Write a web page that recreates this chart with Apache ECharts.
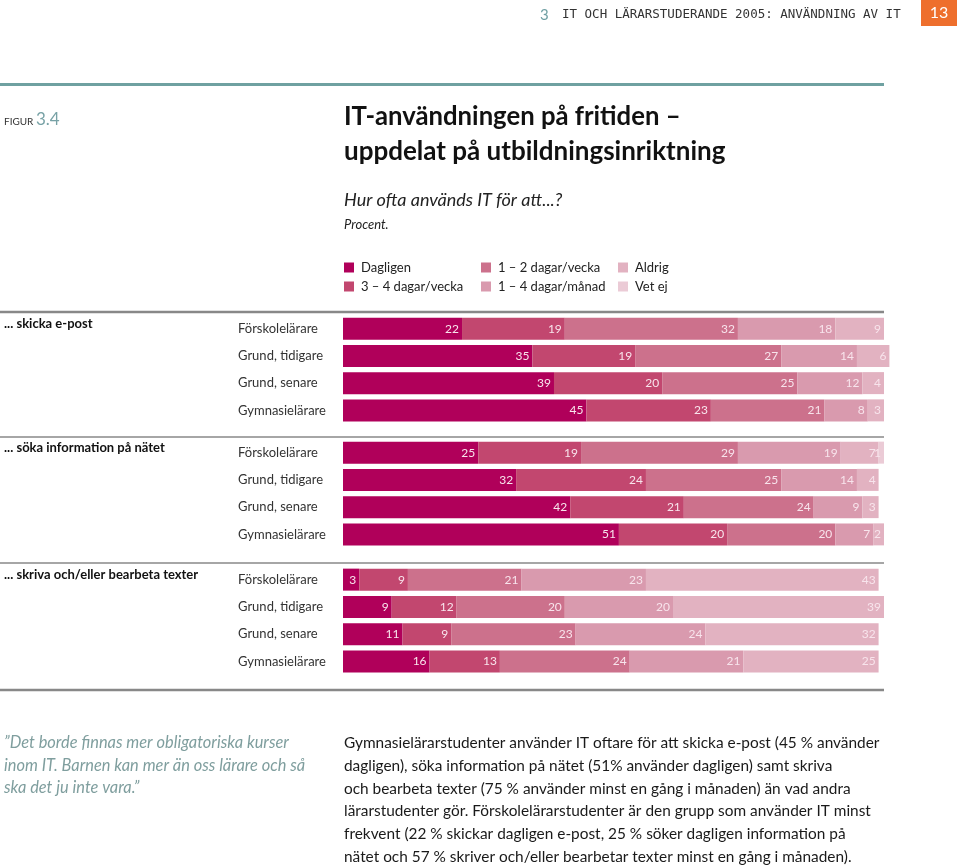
<!DOCTYPE html>
<html><head><meta charset="utf-8">
<script src="https://cdn.jsdelivr.net/npm/echarts@6/dist/echarts.min.js"></script>
<style>html,body{margin:0;padding:0;background:#fff}#main{width:960px;height:868px}</style>
</head><body><div id="main"></div>
<script>
// ---- data ----
const categories = ['Förskolelärare', 'Grund, tidigare', 'Grund, senare', 'Gymnasielärare'];
const groupLabels = ['... skicka e-post', '... söka information på nätet', '... skriva och/eller bearbeta texter'];
const seriesNames = ['Dagligen', '3 – 4 dagar/vecka', '1 – 2 dagar/vecka', '1 – 4 dagar/månad', 'Aldrig', 'Vet ej'];
// rows: [Dagligen, 3–4/vecka, 1–2/vecka, 1–4/månad, Aldrig, Vet ej]
const ePostRows = [
  [22, 19, 32, 18, 9, null],
  [35, 19, 27, 14, 6, null],
  [39, 20, 25, 12, 4, null],
  [45, 23, 21, 8, 3, null]
];
const sokaRows = [
  [25, 19, 29, 19, 7, 1],
  [32, 24, 25, 14, 4, null],
  [42, 21, 24, 9, 3, null],
  [51, 20, 20, 7, 2, null]
];
const skrivaRows = [
  [3, 9, 21, 23, 43, null],
  [9, 12, 20, 20, 39, null],
  [11, 9, 23, 24, 32, null],
  [16, 13, 24, 21, 25, null]
];
const quoteLines = [
  '”Det borde finnas mer obligatoriska kurser',
  'inom IT. Barnen kan mer än oss lärare och så',
  'ska det ju inte vara.”'
];
const bodyLines = [
  'Gymnasielärarstudenter använder IT oftare för att skicka e-post (45 % använder',
  'dagligen), söka information på nätet (51% använder dagligen) samt skriva',
  'och bearbeta texter (75 % använder minst en gång i månaden) än vad andra',
  'lärarstudenter gör. Förskolelärarstudenter är den grupp som använder IT minst',
  'frekvent (22 % skickar dagligen e-post, 25 % söker dagligen information på',
  'nätet och 57 % skriver och/eller bearbetar texter minst en gång i månaden).'
];

// ---- styles ----
const colors = ['#b0005a', '#c2476f', '#cc718c', '#d99aae', '#e2b2c1', '#ebcbd6'];
const FONT = 'Lato, "Noto Sans", sans-serif';
const groupRows = [ePostRows, sokaRows, skrivaRows];
const gridTops = [315, 439, 566];
const lineYs = [312, 437, 563];

const grids = [], xAxes = [], yAxes = [], series = [];
groupRows.forEach((rows, g) => {
  grids.push({ left: 343, width: 541, top: gridTops[g], height: 109 });
  xAxes.push({ type: 'value', gridIndex: g, min: 0, max: 100, show: false });
  yAxes.push({
    type: 'category', gridIndex: g, data: categories, inverse: true,
    axisLine: { show: false }, axisTick: { show: false }, splitLine: { show: false },
    axisLabel: { margin: 105, align: 'left', fontSize: 13, color: '#333', fontFamily: FONT, padding: [0, 0, 6, 0] }
  });
  seriesNames.forEach((name, s) => {
    series.push({
      type: 'bar', name: name, xAxisIndex: g, yAxisIndex: g, stack: 'g' + g,
      barWidth: 22, clip: false,
      data: rows.map(r => r[s]),
      itemStyle: { color: colors[s] },
      label: {
        show: true, position: 'insideRight', distance: 3,
        color: '#f8e4ec', fontSize: 12, fontFamily: FONT,
        formatter: p => (p.value == null ? '' : String(p.value))
      }
    });
  });
});

const legendCols = [[0, 1], [2, 3], [4, 5]];
const legendLefts = [344, 481, 618];
const legends = legendCols.map((idx, i) => ({
  orient: 'vertical', left: legendLefts[i], top: 261, padding: 0,
  data: idx.map(k => ({ name: seriesNames[k], icon: 'rect' })),
  itemWidth: 10, itemHeight: 10, itemGap: 6,
  selectedMode: false,
  textStyle: { fontSize: 13, color: '#222', fontFamily: FONT, padding: [0, 0, 0, 2] }
}));

const graphics = [];
function txt(x, y, text, style) {
  graphics.push({ type: 'text', x: x, y: y, silent: true,
    style: Object.assign({ text: text, fill: '#222', font: '13px ' + FONT, align: 'left', verticalAlign: 'middle' }, style || {}) });
}
function line(x1, y1, x2, y2, color, w) {
  graphics.push({ type: 'line', silent: true, shape: { x1, y1, x2, y2 }, style: { stroke: color, lineWidth: w } });
}
// header
txt(540, 15, '3', { fill: '#6f9fa3', font: '15px ' + FONT });
txt(562, 15, 'IT OCH LÄRARSTUDERANDE 2005: ANVÄNDNING AV IT', { fill: '#333', font: '12.5px "DejaVu Sans Mono", monospace' });
graphics.push({ type: 'rect', silent: true, shape: { x: 921, y: 0, width: 36, height: 26 }, style: { fill: '#ee6f2d' } });
txt(939, 13, '13', { fill: '#fff', font: '16px ' + FONT, align: 'center' });
line(0, 84.5, 884, 84.5, '#6fa1a1', 3);
txt(4, 122, 'FIGUR', { fill: '#333', font: '10px ' + FONT });
txt(36, 120, '3.4', { fill: '#78a2a6', font: '17px ' + FONT });
// title
txt(344, 117, 'IT-användningen på fritiden –', { fill: '#111', font: 'bold 25.7px ' + FONT });
txt(344, 152, 'uppdelat på utbildningsinriktning', { fill: '#111', font: 'bold 26px ' + FONT });
txt(344, 200, 'Hur ofta används IT för att...?', { fill: '#222', font: 'italic 18px ' + FONT });
txt(344, 225, 'Procent.', { fill: '#222', font: 'italic 13px ' + FONT });
// group separators and labels
lineYs.forEach((y, g) => {
  line(0, y, 884, y, '#888', g === 0 ? 2.5 : 1.5);
  txt(4, gridTops[g] + 9, groupLabels[g], { fill: '#111', font: 'bold 13px ' + FONT });
});
line(0, 690, 884, 690, '#888', 2.5);
// bottom texts
quoteLines.forEach((t, i) => txt(4, 743 + i * 22.5, t, { fill: '#7f9e9e', font: 'italic 16.4px ' + FONT }));
bodyLines.forEach((t, i) => txt(344, 743 + i * 22.8, t, { fill: '#1a1a1a', font: '15.4px ' + FONT }));

const chart = echarts.init(document.getElementById('main'));
chart.setOption({
  animation: false,
  backgroundColor: '#fff',
  grid: grids, xAxis: xAxes, yAxis: yAxes, series: series,
  legend: legends,
  graphic: graphics
});
</script></body></html>
